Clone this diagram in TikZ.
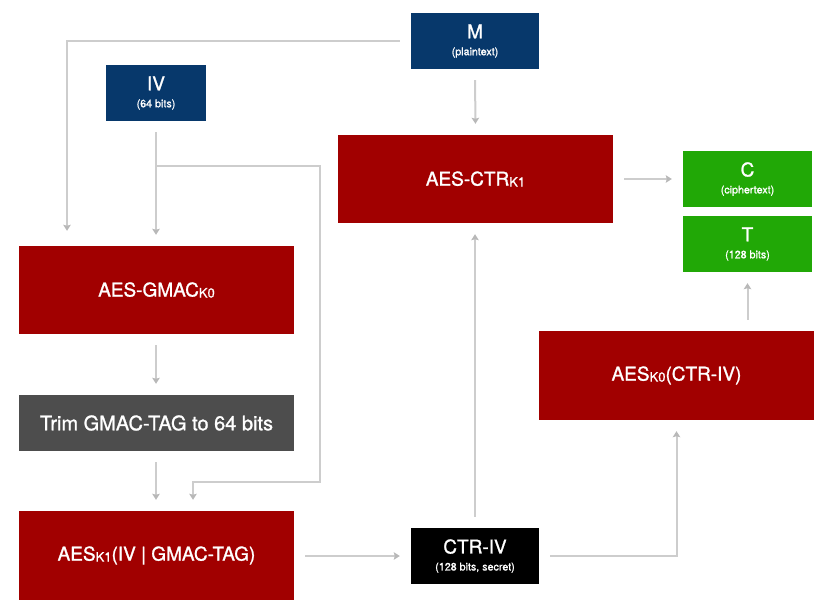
\documentclass[tikz,border=0pt]{standalone}
\usepackage{fontspec}
\setmainfont{TeX Gyre Heros}
\newfontfamily\boxfont{TeX Gyre Heros}[FakeBold=1.2]
\usetikzlibrary{arrows.meta}

\definecolor{inblue}{HTML}{07386B}
\definecolor{aesred}{HTML}{A10000}
\definecolor{outgreen}{HTML}{21A806}
\definecolor{trimgray}{HTML}{4D4D4D}
\definecolor{linkgray}{HTML}{CDCDCD}
\definecolor{tipgray}{HTML}{B8B8B8}

\newcommand{\bigtext}{\boxfont\fontsize{19}{16}\selectfont}
\newcommand{\smalltext}{\fontsize{10.7}{12}\selectfont}
\newcommand{\keysub}[1]{\raisebox{-1pt}{\fontsize{13}{13}\selectfont #1}}

\tikzset{
  box/.style={rectangle, inner sep=0pt, text=white, font=\bigtext, align=center},
  inbox/.style={box, fill=inblue, minimum height=56pt},
  aesbox/.style={box, fill=aesred, minimum width=275pt, minimum height=88pt},
  outbox/.style={box, fill=outgreen, minimum width=129pt, minimum height=56pt},
  trimbox/.style={box, fill=trimgray, minimum width=275pt, minimum height=56pt},
  secretbox/.style={box, fill=black, minimum width=128pt, minimum height=56pt},
  link/.style={draw=linkgray, line width=2pt,
    -{Stealth[length=6pt, width=7.5pt, inset=1pt, color=tipgray]},
    shorten <=11pt, shorten >=11pt}
}

\begin{document}
\begin{tikzpicture}[x=1pt, y=-1pt]
    \useasboundingbox (0,0) rectangle (832,615);

    % Inputs
    \node[inbox, minimum width=128pt] (m) at (475,41) {M\\[1pt]\smalltext(plaintext)};
    \node[inbox, minimum width=100pt] (iv) at (156,93) {IV\\[1pt]\smalltext(64 bits)};

    % Processing blocks
    \node[aesbox] (ctr) at (475.5,179) {AES-CTR\keysub{K1}};
    \node[aesbox] (gmac) at (156.5,290) {AES-GMAC\keysub{K0}};
    \node[trimbox, font=\bigtext\fontsize{20}{16}\selectfont] (trim) at (156.5,423) {Trim GMAC-TAG to 64 bits};
    \node[aesbox, minimum height=89pt] (aesk1) at (156.5,555.5) {AES\keysub{K1}(IV | GMAC-TAG)};
    \node[secretbox] (ctriv) at (475,556) {CTR-IV\\[1pt]\smalltext(128 bits, secret)};
    \node[aesbox, minimum height=89pt] (aesk0) at (676.5,375.5) {AES\keysub{K0}(CTR-IV)};

    % Outputs
    \node[outbox] (c) at (747.5,179) {C\\[1pt]\smalltext(ciphertext)};
    \node[outbox] (t) at (747.5,244) {T\\[1pt]\smalltext(128 bits)};

    % Helper points
    \coordinate (ivsplit) at (156,166);
    \coordinate (bypass) at (320,482);

    % Connectors
    \draw[link, shorten >=15pt] (m.west) -| ([xshift=-89.5pt]gmac.north);
    \draw[link] (m.south) -- (ctr.north);
    \draw[link] (iv.south) -- (iv.south |- gmac.north);
    \draw[link, shorten <=0pt] (ivsplit) -| (bypass) -| ([xshift=36.5pt]aesk1.north);
    \draw[link] (gmac.south -| iv.south) -- (trim.north -| iv.south);
    \draw[link] (trim.south -| iv.south) -- (aesk1.north -| iv.south);
    \draw[link] (aesk1.east |- ctriv.west) -- (ctriv.west);
    \draw[link] (ctriv.north) -- (ctr.south -| ctriv.north);
    \draw[link] (ctriv.east) -| (aesk0.south);
    \draw[link] (aesk0.north -| t.south) -- (t.south);
    \draw[link] (ctr.east) -- (c.west);
\end{tikzpicture}
\end{document}
